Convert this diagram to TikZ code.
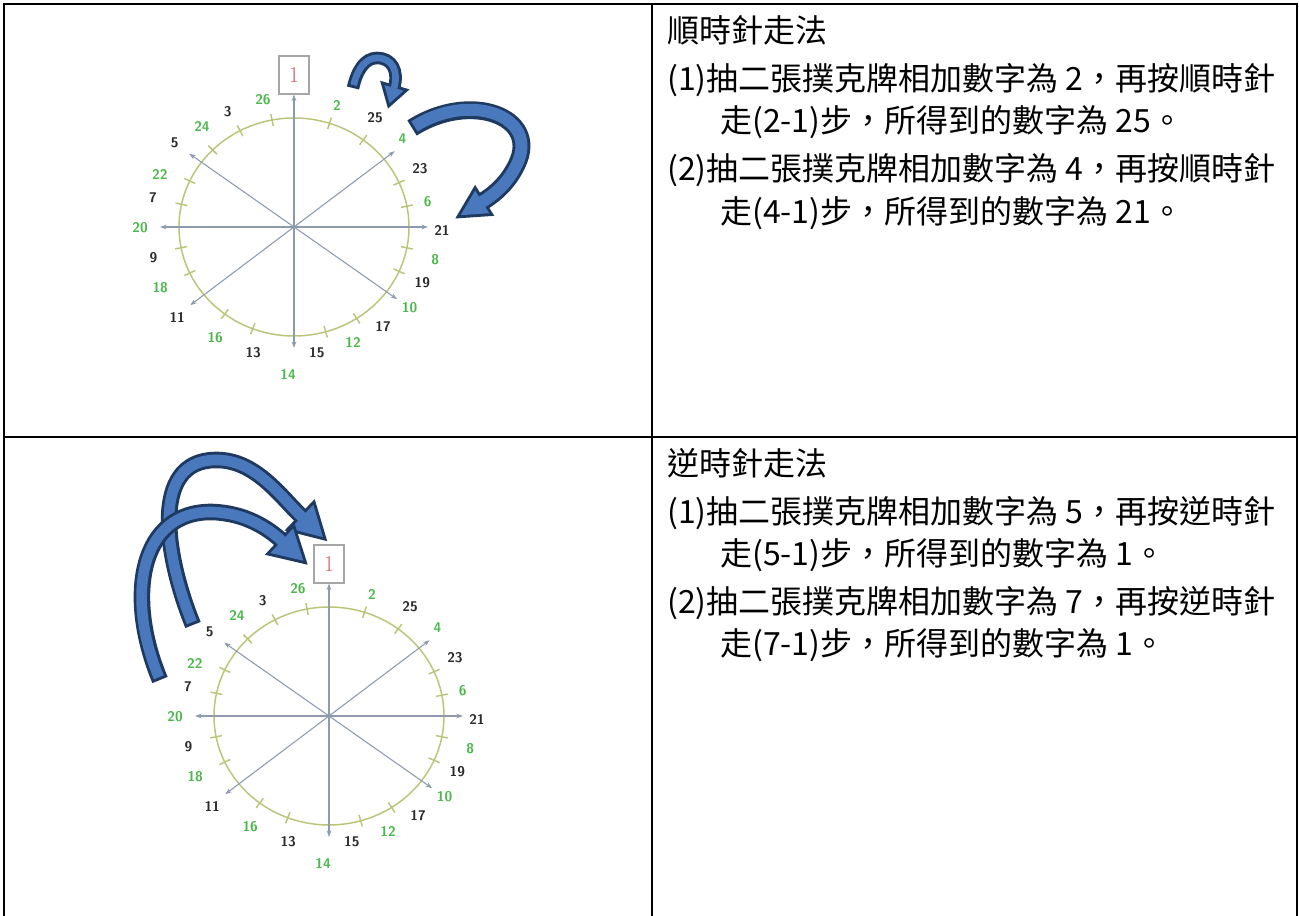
\documentclass[tikz,border=0pt]{standalone}
\usepackage{fontspec}
\newfontfamily\zhfont{Noto Sans CJK TC}
\usetikzlibrary{positioning}
\usetikzlibrary{arrows.meta}
\usetikzlibrary{decorations.markings}

\definecolor{rimgreen}{HTML}{BCC47A}
\definecolor{axisgray}{HTML}{8E9AAE}
\definecolor{oddnum}{HTML}{2B2B2B}
\definecolor{evennum}{HTML}{4CB84C}
\definecolor{onered}{HTML}{D8606E}
\definecolor{bandfill}{HTML}{4A78BC}
\definecolor{bandedge}{HTML}{1F3A60}

% curved block arrow: body width, head half width, head length (pt), path
\newcommand{\bandarrow}[4]{%
  \draw[bandback={#1}{#2}{#3}] #4;
  \draw[bandfront={#1}{#2}{#3}] #4;}

\begin{document}
\begin{tikzpicture}[x=0.75pt, y=0.75pt,
  rim/.style={draw=rimgreen, line width=1.1pt},
  axis/.style={draw=axisgray, line width=0.8pt,
    arrows={Stealth[length=5pt,width=3.5pt]-Stealth[length=5pt,width=3.5pt]}},
  num/.style={font=\sffamily\bfseries\fontsize{10.5}{11}\selectfont, inner sep=0pt},
  onebox/.style={draw=gray!70, line width=0.8pt, fill=white, minimum width=22.5pt,
    minimum height=28.5pt, inner sep=0pt, text=onered, font=\fontsize{17}{17}\selectfont},
  zhline/.style={font=\zhfont\fontsize{24}{24}\selectfont, anchor=west, inner sep=0pt},
  frame/.style={line width=1.5pt},
  bandback/.style n args={3}{draw=bandedge, line width=#1pt+4.4pt,
    postaction={decorate, decoration={markings, mark=at position 0.999 with
      {\filldraw[bandedge, line width=4.4pt, line join=miter] (0pt,-#2pt) -- (#3pt,0pt) -- (0pt,#2pt) -- cycle;}}}},
  bandfront/.style n args={3}{draw=bandfill, line width=#1pt, shorten <=2.2pt,
    postaction={decorate, decoration={markings, mark=at position 0.999 with
      {\fill[bandfill] (0pt,-#2pt) -- (#3pt,0pt) -- (0pt,#2pt) -- cycle;}}}},
  wheel/.pic={
    \coordinate (-c) at (0,0);
    \draw[rim] (-c) ellipse [x radius=115, y radius=109];
    \foreach \a in {101,118,135,155,168,72,53,24,11,191,205,233,249,-74,-57,-24,-11}
      \draw[rim] (\a:109 and 103) -- (\a:121 and 115);
    \node[onebox] (-one) at (0,152) {1};
    \draw[axis] (-one.south) -- (0,-121);
    \draw[axis] (-134,0) -- (134,0);
    \draw[axis] (145:128) -- (-35:126);
    \draw[axis] (37:126) -- (217:130);
    \foreach \a/\r/\t/\c in {103.7/131/26/evennum, 119.9/133/3/oddnum, 70.6/129/2/evennum,
        53.4/136/25/oddnum, 132.6/136/24/evennum, 144.8/146/5/oddnum, 39.2/140/4/evennum,
        158.8/144/22/evennum, 25/139/23/oddnum, 168.4/144/7/oddnum, 10.6/136/6/evennum,
        180.4/154/20/evennum, -1.2/148/21/oddnum, 192.4/144/9/oddnum, -13.2/145/8/evennum,
        204.5/147/18/evennum, -23.6/140/19/oddnum, 217.9/148/11/oddnum, -34.9/141/10/evennum,
        234.6/136/16/evennum, -48.3/134/17/oddnum, 252/132/13/oddnum, -63/130/12/evennum,
        267.7/148/14/evennum, -79.7/128/15/oddnum}
      \node[num, text=\c] (-n\t) at (\a:\r) {\t};
  }]
\fill[white] (0,0) rectangle (1299,916);
\useasboundingbox (0,0) rectangle (1299,916);

% table rules
\draw[frame] (4,0) -- (4,912) -- (1297,912) -- (1297,0);
\draw[frame] (652,0) -- (652,912);
\draw[frame] (4,479) -- (1297,479);

% clockwise row
\pic (cw) at (294,689) {wheel};
\coordinate (cwa0) at (353,828);
\coordinate (cwa1) at (394,828);
\coordinate (cwb0) at (412,788);
\coordinate (cwb1) at (482,714);
\bandarrow{5}{7.5}{12}{(cwa0) .. controls (357,846) and (365,858) .. (377,858)
  .. controls (392,858) and (399,845) .. (cwa1)}
\bandarrow{9}{10}{19}{(cwb0) .. controls (470,825) and (540,800) .. (517,752)
  .. controls (508,733) and (495,722) .. (cwb1)}

\node[zhline] (cwtitle) at (667,886) {順時針走法};
\node[zhline] (cwstep1) at (667,836) {(1)抽二張撲克牌相加數字為 2，再按順時針};
\node[zhline] (cwres1) at (720,794) {走(2-1)步，所得到的數字為 25。};
\node[zhline] (cwstep2) at (667,746) {(2)抽二張撲克牌相加數字為 4，再按順時針};
\node[zhline] (cwres2) at (720,703) {走(4-1)步，所得到的數字為 21。};

% counter-clockwise row
\pic (ccw) at (329,200) {wheel};
\coordinate (ccwa0) at (193,291);
\coordinate (ccwa1) at (302,399);
\coordinate (ccwb0) at (160,236);
\coordinate (ccwb1) at (282,375);
\bandarrow{8}{12.5}{22}{(ccwa0) .. controls (165,360) and (150,455) .. (215,456)
  .. controls (255,457) and (280,420) .. (ccwa1)}
\bandarrow{8}{12.5}{22}{(ccwb0) .. controls (125,320) and (140,405) .. (212,404)
  .. controls (245,403) and (268,388) .. (ccwb1)}

\node[zhline] (ccwtitle) at (667,453) {逆時針走法};
\node[zhline] (ccwstep1) at (667,403) {(1)抽二張撲克牌相加數字為 5，再按逆時針};
\node[zhline] (ccwres1) at (720,361) {走(5-1)步，所得到的數字為 1。};
\node[zhline] (ccwstep2) at (667,313) {(2)抽二張撲克牌相加數字為 7，再按逆時針};
\node[zhline] (ccwres2) at (720,271) {走(7-1)步，所得到的數字為 1。};
\end{tikzpicture}
\end{document}
